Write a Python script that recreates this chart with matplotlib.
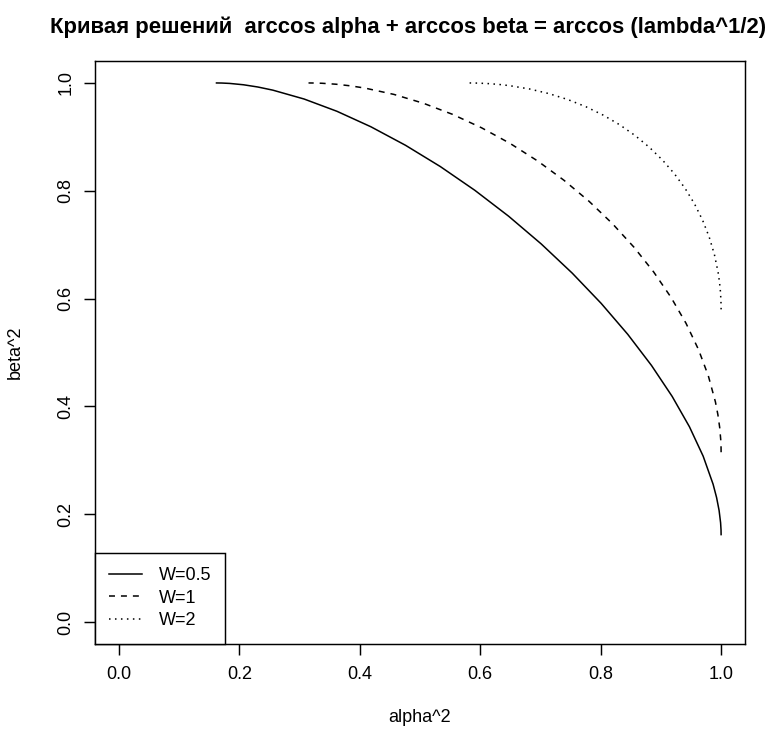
import matplotlib
matplotlib.use("Agg")
import matplotlib.pyplot as plt

plt.rcParams['font.family'] = ['Liberation Sans', 'DejaVu Sans']
plt.rcParams['lines.scale_dashes'] = False

# points: alpha^2 (x) and beta^2 (y)
x_w05 = [1.0, 0.99987, 0.99916, 0.99666, 0.99250, 0.98669, 0.97022, 0.94746, 0.91874,
         0.88441, 0.84496, 0.80090, 0.75282, 0.70136, 0.64722, 0.59110, 0.53378, 0.47599,
         0.41854, 0.36217, 0.30764, 0.25568, 0.23088, 0.20697, 0.18406, 0.17081, 0.16219]
y_w05 = [0.16219, 0.17081, 0.18406, 0.20697, 0.23088, 0.25568, 0.30764, 0.36217, 0.41854,
         0.47599, 0.53378, 0.59110, 0.64722, 0.70136, 0.75282, 0.80090, 0.84496, 0.88441,
         0.91874, 0.94746, 0.97022, 0.98669, 0.99250, 0.99666, 0.99916, 0.99987, 1.0]

x_w1 = [1.0, 0.99990, 0.99941, 0.99762, 0.99466, 0.99053, 0.97877, 0.96246, 0.94177,
        0.91687, 0.88802, 0.85549, 0.81957, 0.78063, 0.73901, 0.69513, 0.64940, 0.60224,
        0.55412, 0.50548, 0.45679, 0.40852, 0.38466, 0.36109, 0.33786, 0.32409, 0.315]
y_w1 = [0.315, 0.32409, 0.33786, 0.36109, 0.38466, 0.40852, 0.45679, 0.50548, 0.55412,
        0.60224, 0.64940, 0.69513, 0.73901, 0.78063, 0.81957, 0.85549, 0.88802, 0.91687,
        0.94177, 0.96246, 0.97877, 0.99053, 0.99466, 0.99762, 0.99941, 0.99990, 1.0]

x_w2 = [1.0, 0.99995, 0.99969, 0.99876, 0.99721, 0.99504, 0.98886, 0.98024, 0.96925,
        0.95592, 0.94032, 0.92254, 0.90266, 0.88077, 0.85700, 0.83145, 0.80425, 0.77554,
        0.74546, 0.71416, 0.68180, 0.64853, 0.63161, 0.61453, 0.59730, 0.58691, 0.58]
y_w2 = [0.58, 0.58691, 0.59730, 0.61453, 0.63161, 0.64853, 0.68180, 0.71416, 0.74546,
        0.77554, 0.80425, 0.83145, 0.85700, 0.88077, 0.90266, 0.92254, 0.94032, 0.95592,
        0.96925, 0.98024, 0.98886, 0.99504, 0.99721, 0.99876, 0.99969, 0.99995, 1.0]

labels = ["W=0.5", "W=1", "W=2"]
ticks = [0.0, 0.2, 0.4, 0.6, 0.8, 1.0]
tick_labels = ["0.0", "0.2", "0.4", "0.6", "0.8", "1.0"]

W, H = 771, 732
fig = plt.figure(figsize=(W / 100, H / 100), dpi=100)
ax = fig.add_axes([94.7 / W, 1 - 643.6 / H, 650.5 / W, 582.2 / H])

LW = 1.1
FS = 13
ax.plot(x_w05, y_w05, color="black", lw=LW, label=labels[0])
ax.plot(x_w1, y_w1, color="black", lw=LW, dashes=(4.3, 4.3), label=labels[1])
ax.plot(x_w2, y_w2, color="black", lw=LW, dashes=(1.1, 3.2), label=labels[2])

ax.set_xlim(-0.04, 1.04)
ax.set_ylim(-0.04, 1.04)
ax.set_xticks(ticks)
ax.set_xticklabels(tick_labels)
ax.set_yticks(ticks)
ax.set_yticklabels(tick_labels, rotation=90, va="center")
ax.tick_params(direction="out", length=7.8, width=1.05, labelsize=FS)
ax.tick_params(axis="x", pad=8.1)
ax.tick_params(axis="y", pad=6.9)
for s in ax.spines.values():
    s.set_linewidth(1.05)

ax.set_xlabel("alpha^2", fontsize=FS)
ax.set_ylabel("beta^2", fontsize=FS)
ax.xaxis.set_label_coords(0.5, (643.6 - 718) / 582.2)
ax.xaxis.label.set_va("center")
ax.yaxis.set_label_coords((15 - 94.7) / 650.5, 0.5)
ax.yaxis.label.set_va("center")

fig.text(408 / W, 1 - 27 / H,
         "Кривая решений  arccos alpha + arccos beta = arccos (lambda^1/2)",
         fontsize=15.9, fontweight="bold", ha="center", va="center")

leg = ax.legend(loc="lower left", bbox_to_anchor=(0, 0), borderaxespad=0,
                fancybox=False, edgecolor="black", framealpha=1, fontsize=FS,
                handlelength=1.8, handletextpad=0.93, borderpad=0.8,
                labelspacing=0.3)
leg.get_frame().set_linewidth(1.05)

fig.savefig("out.png", dpi=100)
